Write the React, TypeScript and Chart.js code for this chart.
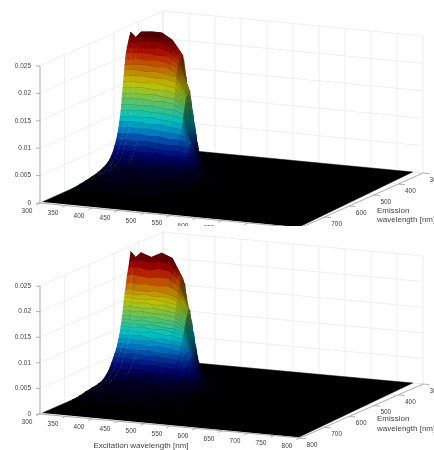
import React, { useEffect, useRef } from "react";
import { Chart, registerables } from "chart.js";

Chart.register(...registerables);

const excitationNm = [300, 310, 320, 340, 360, 380, 400, 420, 440, 460, 480];
const emissionNm = [400, 415, 425, 432, 438, 442, 447, 451, 454, 456, 458, 460, 462, 464, 466, 468, 470, 472, 475, 478, 481, 486, 491, 497, 503, 510, 518, 528, 545, 565, 590, 615, 640, 670];

// intensity in units of 1e-5
const topSurface = [
  [0, 0, 0, 0, 0, 0, 0, 0, 0, 0, 0],
  [1200, 1180, 1220, 1240, 1230, 1180, 1000, 220, 0, 0, 0],
  [2200, 2120, 2240, 2260, 2250, 2150, 1800, 480, 0, 0, 0],
  [2380, 2290, 2400, 2420, 2420, 2310, 2050, 600, 0, 0, 0],
  [2300, 2280, 2320, 2340, 2330, 2250, 2000, 1050, 10, 0, 0],
  [2220, 2200, 2240, 2250, 2260, 2200, 1980, 1250, 20, 0, 0],
  [2130, 2120, 2150, 2140, 2170, 2120, 1960, 1450, 40, 0, 0],
  [2030, 2030, 2050, 2060, 2040, 2040, 1920, 1420, 70, 0, 0],
  [1930, 1920, 1960, 1940, 1960, 1930, 1850, 1400, 90, 0, 0],
  [1830, 1840, 1850, 1860, 1840, 1850, 1760, 1340, 110, 0, 0],
  [1730, 1740, 1760, 1740, 1760, 1730, 1700, 1380, 150, 0, 0],
  [1630, 1640, 1650, 1660, 1640, 1650, 1600, 1350, 180, 0, 0],
  [1530, 1530, 1550, 1540, 1560, 1530, 1500, 1290, 190, 0, 0],
  [1430, 1440, 1450, 1460, 1440, 1450, 1410, 1220, 200, 0, 0],
  [1330, 1330, 1350, 1340, 1360, 1330, 1320, 1180, 240, 0, 0],
  [1230, 1240, 1250, 1260, 1240, 1250, 1220, 1130, 280, 0, 0],
  [1130, 1130, 1150, 1140, 1160, 1130, 1120, 1060, 330, 0, 0],
  [1030, 1040, 1050, 1060, 1040, 1050, 1020, 980, 390, 0, 0],
  [930, 930, 950, 940, 960, 930, 920, 880, 470, 10, 0],
  [830, 840, 850, 860, 840, 850, 820, 790, 540, 20, 0],
  [730, 730, 750, 740, 760, 730, 720, 710, 590, 40, 0],
  [630, 640, 650, 660, 640, 650, 620, 620, 560, 120, 0],
  [530, 530, 550, 540, 560, 530, 520, 530, 490, 170, 0],
  [440, 440, 460, 450, 470, 440, 430, 440, 410, 170, 0],
  [360, 370, 380, 390, 370, 380, 350, 360, 340, 170, 0],
  [290, 290, 310, 300, 320, 290, 280, 290, 270, 160, 5],
  [230, 240, 250, 260, 240, 250, 220, 230, 210, 120, 5],
  [180, 180, 200, 190, 210, 180, 170, 180, 140, 80, 0],
  [130, 140, 150, 160, 140, 150, 120, 130, 90, 50, 0],
  [90, 90, 110, 100, 120, 90, 80, 90, 60, 30, 0],
  [60, 70, 80, 90, 70, 80, 50, 60, 40, 20, 0],
  [40, 40, 60, 50, 70, 40, 30, 30, 20, 10, 0],
  [20, 20, 30, 30, 30, 20, 10, 10, 10, 0, 0],
  [0, 0, 0, 0, 0, 0, 0, 0, 0, 0, 0],
];

const bottomSurface = [
  [0, 0, 0, 0, 0, 0, 0, 0, 0, 0, 0],
  [1300, 1240, 1310, 1290, 1320, 1280, 1050, 250, 0, 0, 0],
  [2280, 2180, 2270, 2200, 2290, 2230, 1850, 500, 0, 0, 0],
  [2400, 2290, 2390, 2320, 2420, 2340, 1970, 680, 0, 0, 0],
  [2200, 2240, 2250, 2220, 2260, 2220, 1940, 1000, 20, 0, 0],
  [2080, 2120, 2120, 2080, 2130, 2100, 1900, 1200, 60, 0, 0],
  [1940, 1990, 1970, 1950, 1970, 1970, 1830, 1400, 180, 0, 0],
  [1800, 1840, 1810, 1830, 1810, 1830, 1740, 1420, 240, 0, 0],
  [1690, 1710, 1700, 1690, 1720, 1680, 1630, 1350, 270, 0, 0],
  [1620, 1630, 1610, 1640, 1610, 1630, 1560, 1310, 290, 0, 0],
  [1550, 1560, 1540, 1540, 1560, 1530, 1500, 1290, 320, 0, 0],
  [1470, 1490, 1460, 1490, 1460, 1480, 1420, 1250, 350, 0, 0],
  [1380, 1400, 1390, 1380, 1410, 1370, 1350, 1190, 390, 0, 0],
  [1290, 1320, 1300, 1320, 1300, 1310, 1270, 1130, 430, 0, 0],
  [1210, 1230, 1220, 1210, 1240, 1200, 1190, 1090, 470, 0, 0],
  [1140, 1160, 1140, 1170, 1140, 1150, 1120, 1040, 510, 0, 0],
  [1080, 1090, 1080, 1070, 1100, 1060, 1060, 990, 540, 0, 0],
  [1020, 1030, 1010, 1040, 1010, 1030, 1000, 950, 570, 10, 0],
  [940, 960, 950, 940, 970, 930, 930, 880, 590, 30, 0],
  [860, 870, 860, 890, 850, 870, 840, 810, 600, 80, 0],
  [790, 800, 800, 790, 810, 780, 770, 750, 580, 120, 0],
  [700, 720, 710, 730, 700, 720, 690, 670, 560, 200, 0],
  [620, 630, 630, 620, 640, 610, 610, 600, 500, 240, 0],
  [540, 560, 550, 570, 540, 560, 530, 520, 450, 240, 0],
  [470, 480, 490, 470, 490, 460, 460, 450, 400, 240, 0],
  [390, 410, 400, 420, 390, 410, 380, 370, 330, 220, 10],
  [300, 320, 320, 310, 330, 300, 290, 290, 260, 190, 20],
  [220, 240, 240, 260, 230, 250, 210, 210, 190, 140, 40],
  [130, 150, 160, 150, 170, 140, 130, 130, 110, 80, 20],
  [90, 100, 120, 110, 120, 100, 90, 80, 70, 50, 10],
  [70, 80, 90, 100, 80, 90, 60, 60, 40, 30, 0],
  [50, 50, 70, 60, 70, 50, 40, 30, 20, 10, 0],
  [20, 30, 30, 40, 30, 20, 20, 10, 10, 0, 0],
  [0, 0, 0, 0, 0, 0, 0, 0, 0, 0, 0],
];

const excitationTicks = [300, 350, 400, 450, 500, 550, 600, 650, 700, 750, 800];
const emissionTicks = [300, 400, 500, 600, 700, 800];
const intensityTicks = [0, 0.005, 0.01, 0.015, 0.02, 0.025];
const intensityLabels = ["0", "0.005", "0.01", "0.015", "0.02", "0.025"];

const FONT = '"Liberation Sans", Arial, sans-serif';
const TEXT = "#454545";

type Panel = {
  surface: number[][];
  top: number;
  height: number;
  origin: [number, number];
  exVec: [number, number];
  emVec: [number, number];
  zPx: number;
  showExTitle: boolean;
  emTitleY: [number, number];
};

const panels: Panel[] = [
  { surface: topSurface, top: 0, height: 226, origin: [40, 203], exVec: [260, 25], emVec: [123, -55], zPx: 5480, showExTitle: false, emTitleY: [211, 220] },
  { surface: bottomSurface, top: 225, height: 225, origin: [40, 414], exVec: [260, 24], emVec: [123, -54], zPx: 5120, showExTitle: true, emTitleY: [419, 429] },
];

const clamp = (v: number) => Math.max(0, Math.min(1, v));

// jet colour map, dimmed near the floor, at the crest and on the right-hand cliff
function colourFor(z: number, drop: number) {
  const t = clamp(z / 0.0245);
  const low = Math.min(1, 0.1 + t * 3.2) * 0.76;
  const crest = 1 - clamp((t - 0.8) / 0.2) * 0.4;
  const side = Math.max(0.55, 1 - Math.max(0, drop) / 0.015);
  const shade = low * crest * side;
  const r = clamp(1.5 - Math.abs(4 * t - 3));
  const g = clamp(1.5 - Math.abs(4 * t - 2));
  const b = clamp(1.5 - Math.abs(4 * t - 1));
  return `rgb(${Math.round(r * shade * 255)},${Math.round(g * shade * 255)},${Math.round(b * shade * 255)})`;
}

function buildPanel(p: Panel) {
  const project = (ex: number, em: number, z: number) => ({
    x: p.origin[0] + ((ex - 300) / 500) * p.exVec[0] + ((800 - em) / 500) * p.emVec[0],
    y: p.origin[1] + ((ex - 300) / 500) * p.exVec[1] + ((800 - em) / 500) * p.emVec[1] - z * p.zPx,
  });
  const painted: any[] = [];
  const line = (data: { x: number; y: number }[], color: string, width: number) =>
    painted.push({ data, showLine: true, fill: false, borderColor: color, borderWidth: width, pointRadius: 0, tension: 0 });
  const polygon = (data: { x: number; y: number }[], color: string, edge = 0.6) =>
    painted.push({ data, showLine: true, fill: "shape", backgroundColor: color, borderColor: color, borderWidth: edge, pointRadius: 0, tension: 0 });

  const GRID = "#eaeaea";
  const AXIS = "#a8a8a8";
  const zMax = 0.025;
  for (const z of intensityTicks) {
    line([project(300, 800, z), project(300, 300, z), project(800, 300, z)], GRID, 0.8);
  }
  for (const ex of excitationTicks) {
    line([project(ex, 800, 0), project(ex, 300, 0), project(ex, 300, zMax)], GRID, 0.8);
  }
  for (const em of emissionTicks) {
    line([project(800, em, 0), project(300, em, 0), project(300, em, zMax)], GRID, 0.8);
  }

  // floor of the surface
  polygon(
    [project(300, 790, 0), project(300, 300, 0), project(780, 300, 0), project(795, 795, 0)],
    "#000000",
    0.5,
  );

  // axes and tick marks
  line([project(300, 800, 0), project(300, 800, zMax)], AXIS, 0.9);
  line([project(300, 800, 0), project(800, 800, 0)], AXIS, 0.9);
  line([project(800, 800, 0), project(800, 300, 0)], AXIS, 0.9);
  for (const z of intensityTicks) {
    const a = project(300, 800, z);
    line([{ x: a.x - 4, y: a.y }, a], AXIS, 0.9);
  }
  for (const ex of excitationTicks) {
    line([project(ex, 800, 0), project(ex, 815, 0)], AXIS, 0.9);
  }
  for (const em of emissionTicks) {
    line([project(800, em, 0), project(812, em, 0)], AXIS, 0.9);
  }

  // surface, back row to front row; a steep cell is shaded in narrow strips so
  // that its colour follows the height
  for (let j = 0; j < emissionNm.length - 1; j++) {
    for (let i = 0; i < excitationNm.length - 1; i++) {
      const a = p.surface[j][i] * 1e-5;
      const b = p.surface[j][i + 1] * 1e-5;
      const c = p.surface[j + 1][i + 1] * 1e-5;
      const d = p.surface[j + 1][i] * 1e-5;
      if (a + b + c + d === 0) continue;
      const steps = Math.max(1, Math.ceil(Math.abs(a + d - b - c) / 2 / 0.0008));
      const e0 = excitationNm[i];
      const e1 = excitationNm[i + 1];
      const em0 = emissionNm[j];
      const em1 = emissionNm[j + 1];
      const drop = ((a + d - b - c) / 2) * (20 / (e1 - e0));
      for (let s = 0; s < steps; s++) {
        const u = s / steps;
        const v = (s + 1) / steps;
        const zb0 = a + (b - a) * u;
        const zb1 = a + (b - a) * v;
        const zf0 = d + (c - d) * u;
        const zf1 = d + (c - d) * v;
        polygon(
          [
            project(e0 + (e1 - e0) * u, em0, zb0),
            project(e0 + (e1 - e0) * v, em0, zb1),
            project(e0 + (e1 - e0) * v, em1, zf1),
            project(e0 + (e1 - e0) * u, em1, zf0),
          ],
          colourFor((zb0 + zb1 + zf0 + zf1) / 4, drop),
        );
      }
    }
    line(
      excitationNm.map((ex, i) => project(ex, emissionNm[j + 1], p.surface[j + 1][i] * 1e-5)),
      "rgba(0,0,0,0.45)",
      0.8,
    );
  }

  const labels = {
    id: "axisText",
    afterDraw(chart: any) {
      const { ctx, scales } = chart;
      const put = (x: number, y: number, s: string, size: number, align: CanvasTextAlign) => {
        ctx.font = `${size}px ${FONT}`;
        ctx.textAlign = align;
        ctx.textBaseline = "middle";
        ctx.fillStyle = TEXT;
        ctx.fillText(s, scales.x.getPixelForValue(x), scales.y.getPixelForValue(y));
      };
      ctx.save();
      intensityTicks.forEach((z, i) => {
        const a = project(300, 800, z);
        put(a.x - 9, a.y, intensityLabels[i], 6.5, "right");
      });
      excitationTicks.forEach((ex) => {
        const a = project(ex, 800, 0);
        put(a.x - 13, a.y + 8, String(ex), 6.5, "center");
      });
      emissionTicks.forEach((em) => {
        const a = project(800, em, 0);
        put(a.x + 12, a.y + 7, String(em), 6.5, "center");
      });
      put(377, p.emTitleY[0], "Emission", 8, "left");
      put(377, p.emTitleY[1], "wavelength [nm]", 8, "left");
      if (p.showExTitle) put(141, 446, "Excitation wavelength [nm]", 8, "center");
      ctx.restore();
    },
  };

  // Chart.js paints its first dataset last, so the list is reversed
  return { datasets: painted.reverse(), labels };
}

export default function App() {
  const topRef = useRef<HTMLCanvasElement>(null);
  const bottomRef = useRef<HTMLCanvasElement>(null);

  useEffect(() => {
    const refs = [topRef, bottomRef];
    const charts = panels.map((p, k) => {
      const { datasets, labels } = buildPanel(p);
      return new Chart(refs[k].current as HTMLCanvasElement, {
        type: "scatter",
        data: { datasets },
        plugins: [labels],
        options: {
          animation: false,
          responsive: false,
          events: [],
          layout: { padding: 0 },
          plugins: { legend: { display: false }, tooltip: { enabled: false } },
          scales: {
            x: { type: "linear", display: false, min: 0, max: 434 },
            y: { type: "linear", display: false, min: p.top, max: p.top + p.height, reverse: true },
          },
        },
      } as any);
    });
    return () => charts.forEach((c) => c.destroy());
  }, []);

  const blur = { filter: "blur(0.65px)" };
  return (
    <div style={{ position: "absolute", left: 0, top: 0, width: 434, height: 450, overflow: "hidden", background: "#fff" }}>
      <canvas ref={topRef} width={434} height={226} style={{ position: "absolute", left: 0, top: 0, ...blur }} />
      <canvas ref={bottomRef} width={434} height={225} style={{ position: "absolute", left: 0, top: 225, ...blur }} />
    </div>
  );
}
